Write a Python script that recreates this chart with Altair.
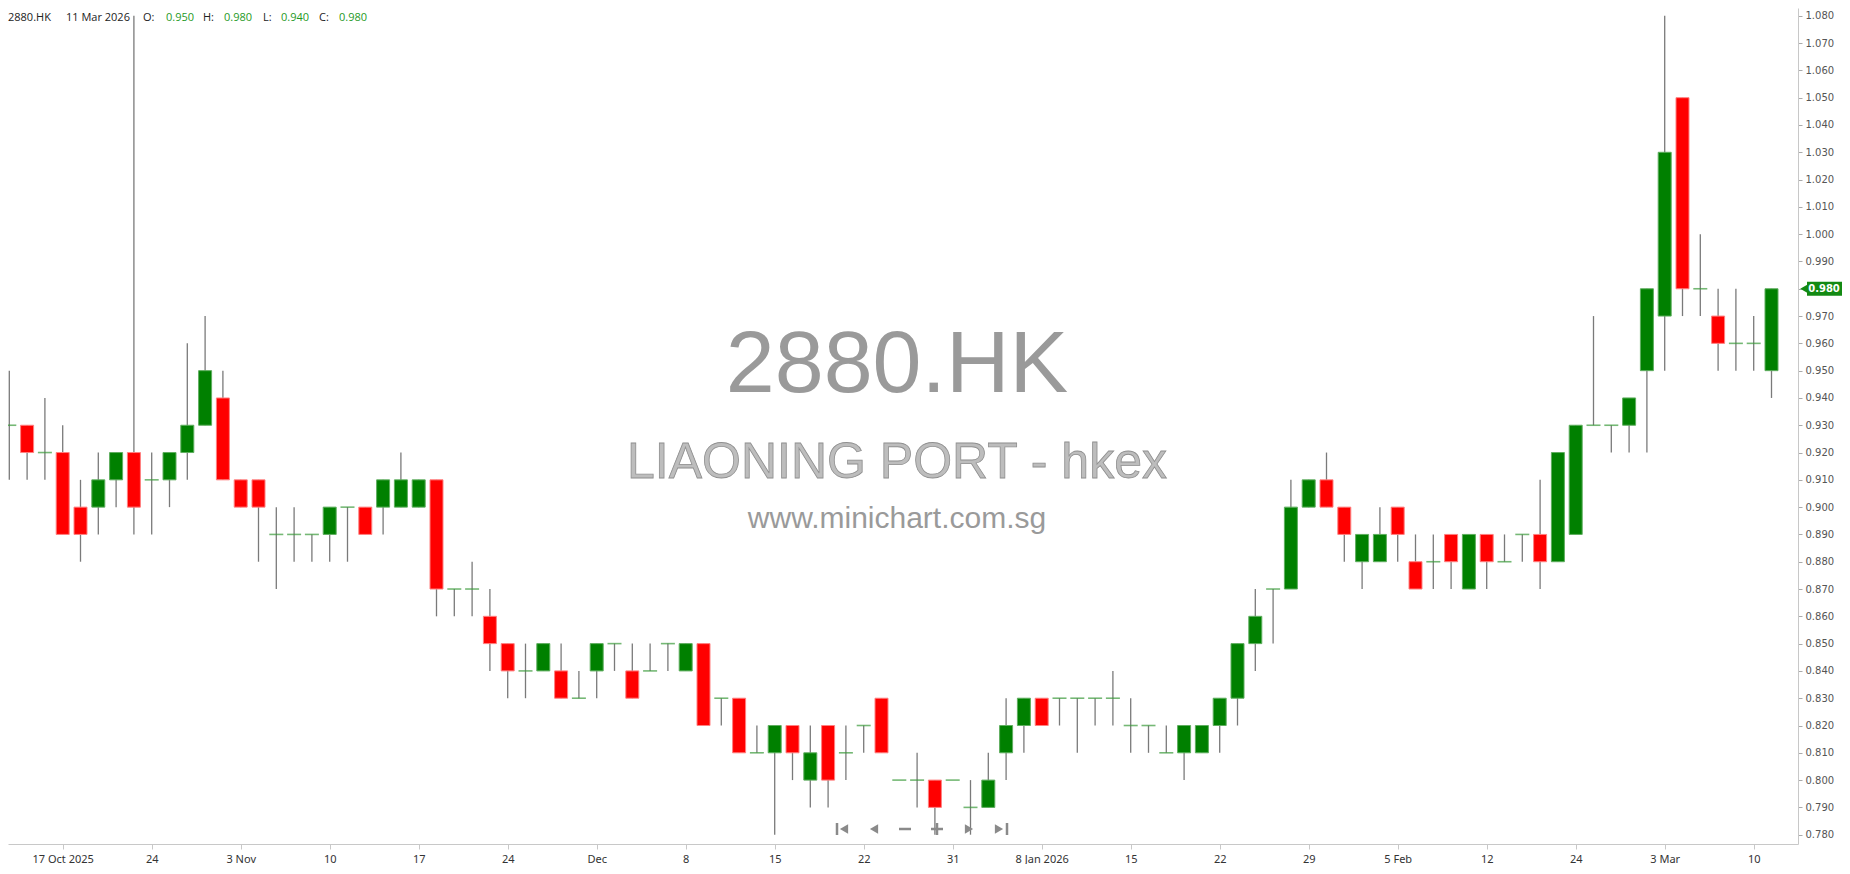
import altair as alt
import pandas as pd

# ---------------- data ----------------
opens = [0.93, 0.93, 0.92, 0.92, 0.90, 0.90, 0.91, 0.92, 0.91, 0.91,
         0.92, 0.93, 0.94, 0.91, 0.91, 0.89, 0.89, 0.89, 0.89, 0.90,
         0.90, 0.90, 0.90, 0.90, 0.91, 0.87, 0.87, 0.86, 0.85, 0.84,
         0.84, 0.84, 0.83, 0.84, 0.85, 0.84, 0.84, 0.85, 0.84, 0.85,
         0.83, 0.83, 0.81, 0.81, 0.82, 0.80, 0.82, 0.81, 0.82, 0.83,
         0.80, 0.80, 0.80, 0.80, 0.79, 0.79, 0.81, 0.82, 0.83, 0.83,
         0.83, 0.83, 0.83, 0.82, 0.82, 0.81, 0.81, 0.81, 0.82, 0.83,
         0.85, 0.87, 0.87, 0.90, 0.91, 0.90, 0.88, 0.88, 0.90, 0.88,
         0.88, 0.89, 0.87, 0.89, 0.88, 0.89, 0.89, 0.88, 0.89, 0.93,
         0.93, 0.93, 0.95, 0.97, 1.05, 0.98, 0.97, 0.96, 0.96, 0.95]
highs = [0.95, 0.93, 0.94, 0.93, 0.91, 0.92, 0.92, 1.08, 0.92, 0.92,
         0.96, 0.97, 0.95, 0.91, 0.91, 0.90, 0.90, 0.89, 0.90, 0.90,
         0.90, 0.91, 0.92, 0.91, 0.91, 0.87, 0.88, 0.87, 0.85, 0.85,
         0.85, 0.85, 0.84, 0.85, 0.85, 0.85, 0.85, 0.85, 0.85, 0.85,
         0.83, 0.83, 0.82, 0.82, 0.82, 0.82, 0.82, 0.82, 0.82, 0.83,
         0.80, 0.81, 0.80, 0.80, 0.80, 0.81, 0.83, 0.83, 0.83, 0.83,
         0.83, 0.83, 0.84, 0.83, 0.82, 0.82, 0.82, 0.82, 0.83, 0.85,
         0.87, 0.87, 0.91, 0.91, 0.92, 0.90, 0.89, 0.90, 0.90, 0.89,
         0.89, 0.89, 0.89, 0.89, 0.89, 0.89, 0.91, 0.92, 0.93, 0.97,
         0.93, 0.94, 0.98, 1.08, 1.05, 1.00, 0.98, 0.98, 0.97, 0.98]
lows = [0.91, 0.91, 0.91, 0.89, 0.88, 0.89, 0.90, 0.89, 0.89, 0.90,
        0.91, 0.93, 0.91, 0.90, 0.88, 0.87, 0.88, 0.88, 0.88, 0.88,
        0.89, 0.89, 0.90, 0.90, 0.86, 0.86, 0.86, 0.84, 0.83, 0.83,
        0.84, 0.83, 0.83, 0.83, 0.84, 0.83, 0.84, 0.84, 0.84, 0.82,
        0.82, 0.81, 0.81, 0.78, 0.80, 0.79, 0.79, 0.80, 0.81, 0.81,
        0.80, 0.79, 0.78, 0.80, 0.78, 0.79, 0.80, 0.81, 0.82, 0.82,
        0.81, 0.82, 0.82, 0.81, 0.81, 0.81, 0.80, 0.81, 0.81, 0.82,
        0.84, 0.85, 0.87, 0.90, 0.90, 0.88, 0.87, 0.88, 0.88, 0.87,
        0.87, 0.87, 0.87, 0.87, 0.88, 0.88, 0.87, 0.88, 0.89, 0.93,
        0.92, 0.92, 0.92, 0.95, 0.97, 0.97, 0.95, 0.95, 0.95, 0.94]
closes = [0.93, 0.92, 0.92, 0.89, 0.89, 0.91, 0.92, 0.90, 0.91, 0.92,
          0.93, 0.95, 0.91, 0.90, 0.90, 0.89, 0.89, 0.89, 0.90, 0.90,
          0.89, 0.91, 0.91, 0.91, 0.87, 0.87, 0.87, 0.85, 0.84, 0.84,
          0.85, 0.83, 0.83, 0.85, 0.85, 0.83, 0.84, 0.85, 0.85, 0.82,
          0.83, 0.81, 0.81, 0.82, 0.81, 0.81, 0.80, 0.81, 0.82, 0.81,
          0.80, 0.80, 0.79, 0.80, 0.79, 0.80, 0.82, 0.83, 0.82, 0.83,
          0.83, 0.83, 0.83, 0.82, 0.82, 0.81, 0.82, 0.82, 0.83, 0.85,
          0.86, 0.87, 0.90, 0.91, 0.90, 0.89, 0.89, 0.89, 0.89, 0.87,
          0.88, 0.88, 0.89, 0.88, 0.88, 0.89, 0.88, 0.92, 0.93, 0.93,
          0.93, 0.94, 0.98, 1.03, 0.98, 0.98, 0.96, 0.96, 0.96, 0.98]

tick_idx = [3, 8, 13, 18, 23, 28, 33, 38, 43, 48,
            53, 58, 63, 68, 73, 78, 83, 88, 93, 98]
tick_labels = ["17 Oct 2025", "24", "3 Nov", "10", "17", "24", "Dec", "8", "15", "22",
               "31", "8 Jan 2026", "15", "22", "29", "5 Feb", "12", "24", "3 Mar", "10"]
y_ticks = [0.78, 0.79, 0.80, 0.81, 0.82, 0.83, 0.84, 0.85, 0.86, 0.87,
           0.88, 0.89, 0.90, 0.91, 0.92, 0.93, 0.94, 0.95, 0.96, 0.97,
           0.98, 0.99, 1.00, 1.01, 1.02, 1.03, 1.04, 1.05, 1.06, 1.07, 1.08]

symbol = "2880.HK"
company = "LIAONING PORT - hkex"
site = "www.minichart.com.sg"
last_date = "11 Mar 2026"

# ---------------- layout ----------------
W = 1790
H = 836
PAD = {"left": 0, "top": 0, "right": 44, "bottom": 20}
STEP = 17.8          # px per trading day
X0 = 1.3             # px from plot edge to the first candle
X_DOMAIN = [-X0 / STEP, (W - X0) / STEP]
Y_DOMAIN = [0.77659, 1.08286]

df = pd.DataFrame({"i": list(range(len(opens))), "o": opens, "h": highs,
                   "l": lows, "c": closes})
df["dir"] = ["up" if c > o else ("down" if c < o else "flat")
             for o, c in zip(opens, closes)]

label_expr = ("[" + ",".join("'%s'" % t for t in tick_labels) + "][indexof(["
              + ",".join(str(v) for v in tick_idx) + "], datum.value)]")
last_close = closes[-1]
ylabel_expr = ("abs(datum.value - %s) < 0.0001 ? '' : format(datum.value, '.3f')"
               % last_close)

xaxis = alt.Axis(values=tick_idx, labelExpr=label_expr, tickSize=5,
                 tickColor="#c8c8c8", domainColor="#c8c8c8", labelColor="#333333",
                 labelFont="Noto Sans", labelFontSize=11, labelPadding=4,
                 grid=False, title=None, labelOverlap=False, labelFlush=False)
yaxis = alt.Axis(orient="right", values=y_ticks, labelExpr=ylabel_expr, tickSize=4,
                 tickColor="#aaaaaa", domainColor="#c8c8c8", labelColor="#555555",
                 labelFont="DejaVu Sans", labelFontSize=10, labelPadding=3,
                 grid=False, title=None, labelOverlap=False, labelFlush=False)
xscale = alt.Scale(domain=X_DOMAIN, nice=False, zero=False, padding=0)
yscale = alt.Scale(domain=Y_DOMAIN, nice=False, zero=False, padding=0)


def X():
    return alt.X("i:Q", scale=xscale, axis=xaxis)


def Y(field):
    return alt.Y(field + ":Q", scale=yscale, axis=yaxis)


base = alt.Chart(df)

wicks = base.mark_rule(color="#7a7a7a", strokeWidth=1.3).encode(
    x=X(), y=Y("l"), y2="h:Q")

bodies = base.transform_filter("datum.o != datum.c").mark_bar(
    size=13, strokeWidth=1).encode(
    x=X(), y=Y("o"), y2="c:Q",
    color=alt.Color("dir:N", scale=alt.Scale(domain=["up", "down"],
                                             range=["#008000", "#ff0000"]), legend=None),
    stroke=alt.Stroke("dir:N", scale=alt.Scale(domain=["up", "down"],
                                               range=["#5fae5f", "#ff8080"]), legend=None))

dojis = base.transform_filter("datum.o == datum.c").mark_tick(
    orient="horizontal", size=14, thickness=1.6, color="#3a9a3a").encode(
    x=X(), y=Y("o"))

# ---------------- watermark ----------------
cx = 889
wm1 = alt.Chart(pd.DataFrame({"t": [symbol]})).mark_text(
    font="Liberation Sans", fontSize=88, color="#9a9a9a", align="center",
    baseline="middle").encode(x=alt.value(cx), y=alt.value(358), text="t:N")
wm2 = alt.Chart(pd.DataFrame({"t": [company]})).mark_text(
    font="Liberation Sans", fontSize=50, fill="#bdbdbd", stroke="#8f8f8f",
    strokeWidth=0.8, align="center", baseline="middle").encode(
    x=alt.value(cx), y=alt.value(455), text="t:N")
wm3 = alt.Chart(pd.DataFrame({"t": [site]})).mark_text(
    font="Liberation Sans", fontSize=30, color="#9a9a9a", align="center",
    baseline="middle").encode(x=alt.value(cx), y=alt.value(511), text="t:N")

# ---------------- header ----------------
green_txt = "#1f9a1f"
header_parts = [
    (symbol, 0, "#222222"),
    (last_date, 58, "#222222"),
    ("O:", 135, "#222222"),
    ("%.3f" % opens[-1], 158, green_txt),
    ("H:", 195, "#222222"),
    ("%.3f" % highs[-1], 216, green_txt),
    ("L:", 255, "#222222"),
    ("%.3f" % lows[-1], 273, green_txt),
    ("C:", 311, "#222222"),
    ("%.3f" % closes[-1], 331, green_txt),
]
header_layers = []
for txt, hx, col in header_parts:
    header_layers.append(
        alt.Chart(pd.DataFrame({"t": [txt]})).mark_text(
            font="Open Sans", fontSize=11, color=col, align="left",
            baseline="middle").encode(x=alt.value(hx), y=alt.value(10), text="t:N"))

# ---------------- price tag on the axis ----------------
tag_df = pd.DataFrame({"p": [last_close], "t": ["%.3f" % last_close]})
tag_col = "#138a13"
tag_tri = alt.Chart(tag_df).mark_point(
    shape="triangle-left", filled=True, size=120, color=tag_col, opacity=1).encode(
    x=alt.value(W + 7), y=Y("p"))
tag_rect = alt.Chart(tag_df).mark_rect(color=tag_col, yOffset=-7, y2Offset=7).encode(
    x=alt.value(W + 9), x2=alt.value(W + 44), y=Y("p"), y2="p:Q")
tag_txt = alt.Chart(tag_df).mark_text(
    color="white", fontWeight="bold", font="DejaVu Sans", fontSize=10,
    align="center", baseline="middle").encode(
    x=alt.value(W + 26), y=Y("p"), text="t:N")

# ---------------- navigation icons ----------------
nav_col = "#8a8a8a"
ny = 821
one = pd.DataFrame({"a": [0]})
nav = [
    alt.Chart(one).mark_rule(color=nav_col, strokeWidth=2.5).encode(
        x=alt.value(829), y=alt.value(ny - 6), y2=alt.value(ny + 6)),
    alt.Chart(one).mark_point(shape="triangle-left", filled=True, size=90,
                              color=nav_col, opacity=1).encode(
        x=alt.value(836), y=alt.value(ny)),
    alt.Chart(one).mark_point(shape="triangle-left", filled=True, size=90,
                              color=nav_col, opacity=1).encode(
        x=alt.value(866), y=alt.value(ny)),
    alt.Chart(one).mark_rule(color=nav_col, strokeWidth=2.5).encode(
        x=alt.value(891), x2=alt.value(903), y=alt.value(ny)),
    alt.Chart(one).mark_rule(color=nav_col, strokeWidth=2.5).encode(
        x=alt.value(923), x2=alt.value(935), y=alt.value(ny)),
    alt.Chart(one).mark_rule(color=nav_col, strokeWidth=2.5).encode(
        x=alt.value(929), y=alt.value(ny - 6), y2=alt.value(ny + 6)),
    alt.Chart(one).mark_point(shape="triangle-right", filled=True, size=90,
                              color=nav_col, opacity=1).encode(
        x=alt.value(961), y=alt.value(ny)),
    alt.Chart(one).mark_point(shape="triangle-right", filled=True, size=90,
                              color=nav_col, opacity=1).encode(
        x=alt.value(991), y=alt.value(ny)),
    alt.Chart(one).mark_rule(color=nav_col, strokeWidth=2.5).encode(
        x=alt.value(999), y=alt.value(ny - 6), y2=alt.value(ny + 6)),
]

chart = alt.layer(
    wm1, wm2, wm3, wicks, bodies, dojis, tag_tri, tag_rect, tag_txt,
    *header_layers, *nav
).properties(
    width=W, height=H, padding=PAD, background="white",
    autosize=alt.AutoSizeParams(type="none")
).configure_view(strokeWidth=0)

chart.save("out.html", embed_options={"renderer": "svg", "actions": False})
